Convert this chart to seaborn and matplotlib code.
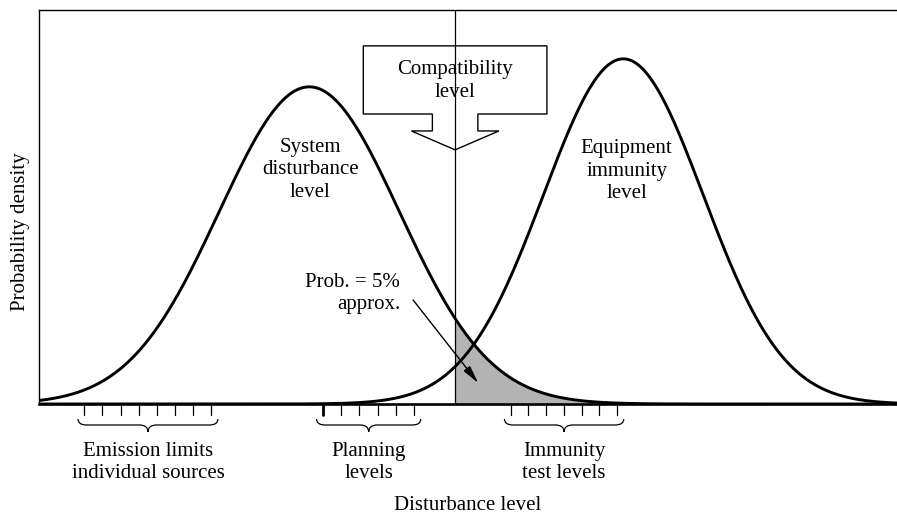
import numpy as np
import pandas as pd
import matplotlib
matplotlib.use("Agg")
import matplotlib.pyplot as plt
import seaborn as sns
from matplotlib.path import Path
from matplotlib.patches import PathPatch, Polygon

# ---------------- data ----------------
curve_names = ["System disturbance level", "Equipment immunity level"]
curve_means = [31.5, 68.1]      # disturbance level (arbitrary units 0-100)
curve_sds = [10.5, 9.3]
curve_peaks = [0.805, 0.876]    # relative probability density

compat_level = 48.5

emission_ticks = [5.3, 7.4, 9.5, 11.65, 13.75, 15.9, 18.0, 20.1]
planning_ticks = [33.1, 35.2, 37.3, 39.5, 41.6, 43.75]
immunity_ticks = [55.0, 57.0, 59.1, 61.2, 63.25, 65.3, 67.4]

group_labels = ["Emission limits\nindividual sources", "Planning\nlevels",
                "Immunity\ntest levels"]

# ---------------- style ----------------
sns.set_theme(style="white")
plt.rcParams["font.family"] = ["Liberation Serif", "DejaVu Serif"]
plt.rcParams["text.color"] = "black"
FS = 15
LS = 1.24

fig = plt.figure(figsize=(8.97, 5.17), dpi=100)
ax = fig.add_axes([39 / 897, 1 - 404 / 517, 1 - 39 / 897, (404 - 10) / 517])

x = np.linspace(0, 100, 1001)
rows = []
for name, m, s, p in zip(curve_names, curve_means, curve_sds, curve_peaks):
    y = p * np.exp(-0.5 * ((x - m) / s) ** 2)
    rows.append(pd.DataFrame({"x": x, "y": y, "curve": name}))
df = pd.concat(rows, ignore_index=True)

sns.lineplot(data=df, x="x", y="y", hue="curve", palette=["black", "black"],
             linewidth=2.1, legend=False, ax=ax, zorder=3)

# shaded tail of disturbance curve beyond compatibility level
d0 = df[df["curve"] == curve_names[0]]
mask = d0["x"] >= compat_level
ax.fill_between(d0["x"][mask], 0, d0["y"][mask], color="#b3b3b3", lw=0, zorder=1)

ax.set_xlim(0, 100)
ax.set_ylim(0, 1)
ax.set_xticks([])
ax.set_yticks([])
ax.set_xlabel("")
ax.set_ylabel("")

for side in ["top", "left", "bottom", "right"]:
    ax.spines[side].set_color("black")
ax.spines["right"].set_visible(False)
ax.spines["top"].set_linewidth(1.0)
ax.spines["left"].set_linewidth(1.0)
ax.spines["bottom"].set_linewidth(1.9)
ax.spines["bottom"].set_zorder(4)

# compatibility level line
ax.axvline(compat_level, color="black", lw=0.9, zorder=2)

# compatibility box with arrow
c = compat_level
hw, nw, ww = 10.7, 2.65, 5.1
box = [(c - hw, 0.909), (c + hw, 0.909), (c + hw, 0.736), (c + nw, 0.736),
       (c + nw, 0.693), (c + ww, 0.693), (c, 0.645), (c - ww, 0.693),
       (c - nw, 0.693), (c - nw, 0.736), (c - hw, 0.736)]
ax.add_patch(Polygon(box, closed=True, fill=False, edgecolor="black", lw=1.0, zorder=2))
ax.text(c, 0.82, "Compatibility\nlevel", ha="center", va="center", fontsize=FS,
        linespacing=LS, zorder=5)

# curve labels
ax.text(31.6, 0.594, "System\ndisturbance\nlevel", ha="center", va="center",
        fontsize=FS, linespacing=LS)
ax.text(68.5, 0.591, "Equipment\nimmunity\nlevel", ha="center", va="center",
        fontsize=FS, linespacing=LS)

# probability annotation
ax.annotate("", xy=(51.2, 0.053), xytext=(43.6, 0.264),
            arrowprops=dict(arrowstyle="-|>,head_length=0.9,head_width=0.2",
                            color="black", lw=1.0, shrinkA=0, shrinkB=0), zorder=5)
ax.text(42.1, 0.280, "Prob. = 5%\napprox.", ha="right", va="center", fontsize=FS,
        multialignment="right", linespacing=LS)

# ticks, braces and labels below axis
tick_len = 11 / 394
b_top, b_mid, b_tip = -15 / 394, -21 / 394, -28 / 394
pad = 0.75


def brace(x0, x1):
    xc = (x0 + x1) / 2
    r = 1.0
    verts = [(x0, b_top), (x0, b_mid), (x0 + r, b_mid),
             (xc - r, b_mid), (xc, b_mid), (xc, b_tip),
             (xc, b_mid), (xc + r, b_mid),
             (x1 - r, b_mid), (x1, b_mid), (x1, b_top)]
    codes = [Path.MOVETO, Path.CURVE3, Path.CURVE3,
             Path.LINETO, Path.CURVE3, Path.CURVE3,
             Path.CURVE3, Path.CURVE3,
             Path.LINETO, Path.CURVE3, Path.CURVE3]
    ax.add_patch(PathPatch(Path(verts, codes), fill=False, edgecolor="black",
                           lw=0.9, clip_on=False))
    return xc


for ticks, label, first_lw in zip([emission_ticks, planning_ticks, immunity_ticks],
                                  group_labels, [0.9, 2.0, 0.9]):
    for i, t in enumerate(ticks):
        ax.plot([t, t], [0, -tick_len], color="black",
                lw=first_lw if i == 0 else 0.9, clip_on=False)
    xc = brace(ticks[0] - pad, ticks[-1] + pad)
    ax.text(xc, -58.5 / 394, label, ha="center", va="center", fontsize=FS,
            linespacing=LS)

fig.text(468 / 897, 1 - 506 / 517, "Disturbance level", ha="center", va="center",
         fontsize=FS)
fig.text(20 / 897, 1 - 232 / 517, "Probability density", ha="center", va="center",
         rotation=90, fontsize=FS)

fig.savefig("out.png", dpi=100, facecolor="white")
